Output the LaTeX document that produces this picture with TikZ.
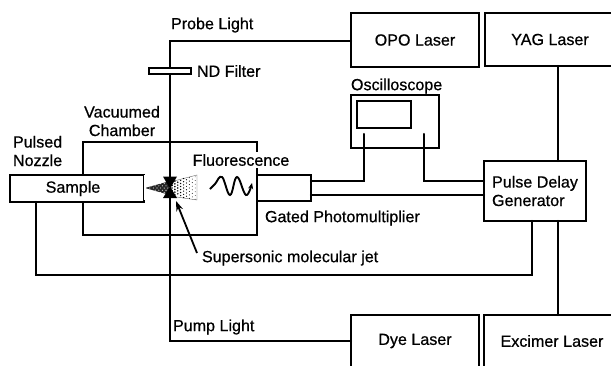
\documentclass[tikz,border=0pt]{standalone}
\usepackage{fontspec}
\setmainfont[FakeBold=0.6]{Liberation Sans}
\usetikzlibrary{arrows.meta}
\begin{document}
\begin{tikzpicture}[x=1pt,y=-1pt,
  every node/.style={font=\fontsize{16.1}{18.5}\selectfont,inner sep=0pt,outer sep=0pt},
  wire/.style={line width=2.1pt,line cap=round,line join=miter},
  box/.style={draw,line width=2.1pt,fill=white,outer sep=0pt,inner sep=0pt},
  lbl/.style={anchor=west}]
\useasboundingbox[fill=white] (0,0) rectangle (611,365);
% chamber
\node[box,minimum width=174pt,minimum height=93pt] (chamber) at (170,188.5) {};
% sample and photomultiplier
\node[box,minimum width=134pt,minimum height=27pt] (sample) at (77,188.5) {\hspace*{-8pt}Sample};
\node[box,minimum width=54pt,minimum height=26pt] (pmt) at (284,188) {};
\node[fill=white,inner xsep=1pt,inner ysep=2pt] (fluor) at (241,160) {Fluorescence};
% boxes
\node[box,minimum width=128pt,minimum height=54pt] (opo) at (415,40) {OPO Laser};
\node[box,minimum width=130pt,minimum height=53pt] (yag) at (550,39.5) {YAG Laser};
\node[box,minimum width=128pt,minimum height=52pt] (dye) at (415,341) {Dye Laser};
\node[box,minimum width=136pt,minimum height=52pt] (excimer) at (552,341) {Excimer Laser};
\node[box,minimum width=102pt,minimum height=60pt,align=left] (pdg) at (535,191) {Pulse Delay\\Generator};
\node[box,minimum width=88pt,minimum height=53pt] (scope) at (395,121.5) {};
\node[box,minimum width=54pt,minimum height=27pt] (screen) at (384,114.5) {};
% named points
\coordinate (beamtop) at (170,41);
\coordinate (beambot) at (170,341);
\coordinate (scopeL) at (364,134);
\coordinate (scopeR) at (424,134);
\coordinate (trigL) at (36,275);
\coordinate (trigR) at (532,275);
\coordinate (jettip) at (176,201);
\coordinate (jettail) at (197,253);
% beam
\draw[wire] (opo.west |- beamtop) -- (beamtop) -- (beambot) -- (dye.west |- beambot);
\node[box,line width=1.7pt,minimum width=42pt,minimum height=6pt] (nd) at (170,71) {};
\draw[wire] (170,74.5) -- (170,90);
% wires
\draw[wire] (scopeL) -- (scopeL |- 0,181) -- (pmt.east |- 0,181);
\draw[wire] (scopeR) -- (scopeR |- 0,181) -- (pdg.west |- 0,181);
\draw[wire] (pmt.east |- 0,195) -- (pdg.west |- 0,195);
\draw[wire] (yag.south -| 558,0) -- (pdg.north -| 558,0);
\draw[wire] (pdg.south -| 558,0) -- (excimer.north -| 558,0);
\draw[wire] (pdg.south -| trigR) -- (trigR) -- (trigL) -- (sample.south -| trigL);
% jet
\fill[black!85] (145,188) -- (170,181) -- (170,195) -- cycle;
\foreach \i in {0,...,5}{\foreach \j in {0,...,6}{
  \pgfmathsetmacro{\px}{148+\i*3.6+(mod(\j,2))*1.8}
  \pgfmathsetmacro{\py}{188+(\j-3)*2.2}
  \fill[white] (\px,\py) circle (0.55pt);}}
\fill[white] (144,175) rectangle (146,200);
\draw[line width=0.4pt,black!60] (170,182) -- (197,175) -- (197,200) -- (170,196);
\foreach \i in {0,...,8}{\foreach \j in {-4,...,4}{
  \pgfmathsetmacro{\px}{172+\i*2.9}
  \pgfmathsetmacro{\py}{188+(\j+0.5*mod(\i,2))*(2.6+\i*0.14)}
  \pgfmathsetmacro{\pr}{0.95-\i*0.07}
  \pgfmathparse{abs(\py-188)<(7+\i*0.72)?1:0}
  \ifnum\pgfmathresult=1 \fill (\px,\py) circle (\pr pt);\fi}}
\fill (163,176.5) -- (177,176.5) -- (171,187) -- (169,187) -- cycle;
\fill (163,198) -- (177,198) -- (171,188) -- (169,188) -- cycle;
% fluorescence wave
\draw[line width=1.9pt,-{Stealth[length=6pt,width=5pt]}] plot[smooth,tension=0.7] coordinates {(210,189) (215,184) (222,177) (230,195) (237,177) (246,195) (252,183)};
% arrow
\draw[line width=1.8pt,-{Stealth[length=10pt,width=7pt]}] (jettail) -- (jettip);
% labels
\node[lbl] (probe) at (171,25) {Probe Light};
\node[lbl] (ndl) at (197,71) {ND Filter};
\node[lbl] (osc) at (351,86) {Oscilloscope};
\node[align=center] (vac) at (122,121) {Vacuumed\\Chamber};
\node[align=left,lbl] (nozzle) at (13,151) {Pulsed\\Nozzle};
\node[lbl] (gpm) at (265,218) {Gated Photomultiplier};
\node[lbl] (jet) at (202,258) {Supersonic molecular jet};
\node[lbl] (pump) at (173,327) {Pump Light};
\end{tikzpicture}
\end{document}
